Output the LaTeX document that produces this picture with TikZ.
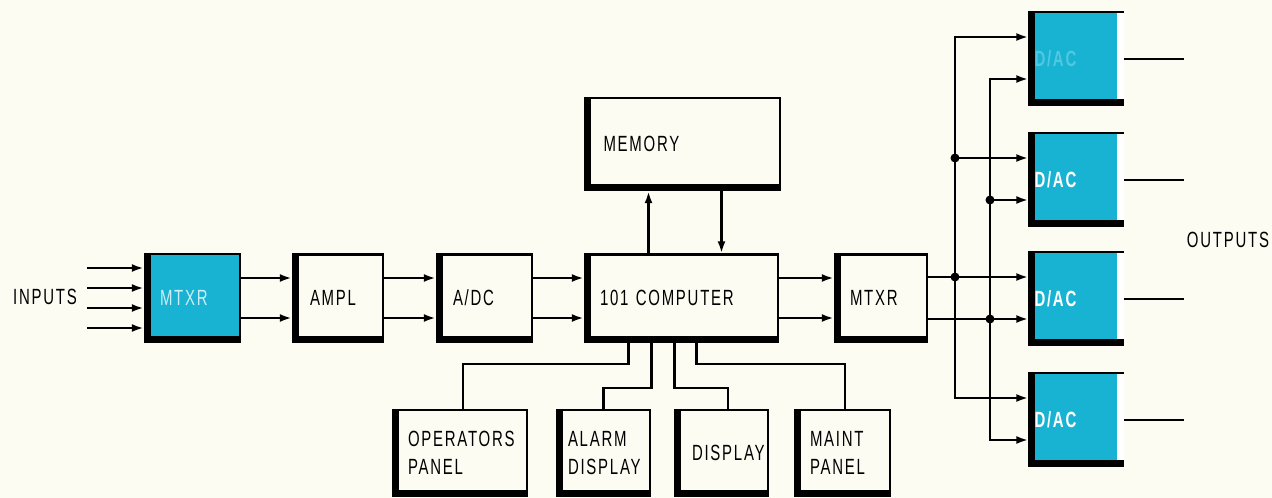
\documentclass[tikz,border=0pt]{standalone}
\usepackage{fontspec}
\newfontfamily\lblfont{Liberation Sans}[FakeStretch=0.68,LetterSpace=8]
\usetikzlibrary{arrows.meta}
\usetikzlibrary{calc}
\definecolor{paper}{RGB}{252,252,243}
\definecolor{cyanbox}{RGB}{24,178,210}
\definecolor{palecyan}{RGB}{205,238,246}
\definecolor{fadecyan}{RGB}{80,200,224}
\tikzset{
  lbl/.style={font=\lblfont\fontsize{22}{28}\selectfont},
  blk/.style={lbl, draw=black, line width=2.4pt, fill=paper, align=left, inner sep=0pt},
  cblk/.style={blk, fill=cyanbox},
  dblk/.style={lbl, line width=2.4pt, fill=cyanbox, align=left, inner sep=0pt, text=white,
    minimum width=93pt, minimum height=92pt, text width=83pt},
  arr/.style={line width=2.4pt, -{Latex[length=12pt,width=8pt]}},
  wire/.style={line width=2.4pt},
}

\begin{document}
\begin{tikzpicture}[x=1pt, y=-1pt]
    \fill[paper] (0,0) rectangle (1272,498);
    \useasboundingbox (0,0) rectangle (1272,498);

    % signal chain
    \node[cblk, minimum width=95pt, minimum height=88pt, text width=65pt, text=palecyan] (mtxrA) at (192.5,298) {MTXR};
    \node[blk, minimum width=90pt, minimum height=87pt, text width=56pt] (ampl) at (338,298) {AMPL};
    \node[blk, minimum width=95pt, minimum height=87pt, text width=63pt] (adc) at (484.5,298) {A/DC};
    \node[blk, minimum width=193pt, minimum height=87pt, text width=163pt] (comp) at (681.5,298) {101 COMPUTER};
    \node[blk, minimum width=195pt, minimum height=92pt, text width=158pt] (mem) at (682.5,144) {MEMORY};
    \node[blk, minimum width=92pt, minimum height=87pt, text width=62pt] (mtxrB) at (881,298) {MTXR};

    % panels
    \node[blk, minimum width=134pt, minimum height=86pt, text width=104pt] (oper) at (460,453) {OPERATORS\\PANEL};
    \node[blk, minimum width=93pt, minimum height=86pt, text width=71pt] (alarm) at (603.5,453) {ALARM\\DISPLAY};
    \node[blk, minimum width=93pt, minimum height=86pt, text width=59pt] (disp) at (721.5,453) {DISPLAY};
    \node[blk, minimum width=95pt, minimum height=86pt, text width=65pt] (maint) at (842.5,453) {MAINT\\PANEL};

    % converters
    \node[dblk, text=fadecyan] (dac1) at (1076,59) {\bfseries D/AC};
    \node[dblk] (dac2) at (1076,180) {\bfseries D/AC};
    \node[dblk] (dac3) at (1076,299) {\bfseries D/AC};
    \node[dblk] (dac4) at (1076,420) {\bfseries D/AC};
    \foreach \d in {1,...,4} {
        \fill[white] ([xshift=-7pt]dac\d.north east) rectangle (dac\d.south east);
        \draw[wire] (dac\d.north west) -- (dac\d.north east);
        \coordinate (ina\d) at ([yshift=22pt]dac\d.west);
        \coordinate (inb\d) at ([yshift=-20pt]dac\d.west);
    }

    % heavy left and bottom edges
    \foreach \b in {mtxrA,ampl,adc,comp,mem,mtxrB,oper,alarm,disp,maint,dac1,dac2,dac3,dac4}
        \draw[line width=7pt] ([xshift=3.5pt]\b.north west) -- ([xshift=3.5pt,yshift=3.5pt]\b.south west) -- ([yshift=3.5pt]\b.south east);

    \node[lbl] (inputs) at (45,297) {INPUTS};
    \node[lbl] (outputs) at (1228,240) {OUTPUTS};

    % inputs
    \foreach \s in {30,10,-10,-30}
        \draw[arr] ([xshift=-57pt,yshift=\s pt]mtxrA.west) coordinate (src\s) -- ([yshift=\s pt]mtxrA.west);

    \foreach \a/\b in {mtxrA/ampl, ampl/adc, adc/comp, comp/mtxrB} {
        \draw[arr] ([yshift=20pt]\a.east) -- ([yshift=20pt]\b.west);
        \draw[arr] ([yshift=-20pt]\a.east) -- ([yshift=-20pt]\b.west);
    }

    % memory
    \coordinate (up) at ([xshift=-33pt]comp.north);
    \coordinate (dn) at ([xshift=40pt]comp.north);
    \draw[arr] (up) -- (up |- mem.south);
    \draw[arr] (dn |- mem.south) -- (dn);

    % panel lines
    \draw[wire] ([xshift=-53pt]comp.south) -- ++(0,21) -| ([xshift=3pt]oper.north);
    \draw[wire] ([xshift=-30pt]comp.south) -- ++(0,45) -| (alarm.north);
    \draw[wire] ([xshift=-7pt]comp.south) -- ++(0,45) -| ([xshift=6.5pt]disp.north);
    \draw[wire] ([xshift=15pt]comp.south) -- ++(0,21) -| ([xshift=2.5pt]maint.north);

    % output buses
    \coordinate (busA) at (955,0);
    \coordinate (busB) at (990,0);
    \draw[arr] ([yshift=21pt]mtxrB.east) -- (ina3);
    \draw[arr] ([yshift=-21pt]mtxrB.east) -- (inb3);
    \draw[arr] (busA |- ina2) -- (busA |- ina1) -- (ina1);
    \draw[arr] (busA |- ina2) -- (busA |- ina4) -- (ina4);
    \draw[arr] (busA |- ina2) -- (ina2);
    \draw[arr] (busB |- inb2) -- (busB |- inb1) -- (inb1);
    \draw[arr] (busB |- inb2) -- (busB |- inb4) -- (inb4);
    \draw[arr] (busB |- inb2) -- (inb2);
    \foreach \p in {ina2,ina3} \fill (busA |- \p) circle (4.5pt);
    \foreach \p in {inb2,inb3} \fill (busB |- \p) circle (4.5pt);

    \foreach \d in {1,...,4}
        \draw[wire] (dac\d.east) -- ++(60,0) coordinate (out\d);
\end{tikzpicture}
\end{document}
